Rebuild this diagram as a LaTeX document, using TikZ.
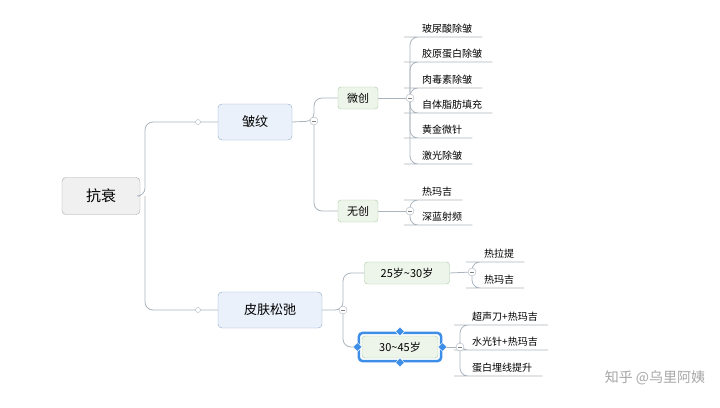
\documentclass[tikz,border=0pt]{standalone}
\usepackage{fontspec}
\setmainfont{Noto Sans CJK SC}
\usetikzlibrary{shapes.geometric,fit}

\definecolor{linegray}{HTML}{A9B4BE}
\definecolor{rootfill}{HTML}{F0F0F0}
\definecolor{bluefill}{HTML}{EAF1FA}
\definecolor{blueline}{HTML}{8FAACB}
\definecolor{greenfill}{HTML}{EDF5EA}
\definecolor{greenline}{HTML}{A6C8A2}
\definecolor{selblue}{HTML}{3E8EE8}

\begin{document}
\begin{tikzpicture}[x=1pt,y=-1pt]
	\tikzstyle{root}=[draw=gray!70,fill=rootfill,rounded corners=4pt,minimum width=78pt,minimum height=37pt,font=\fontsize{15}{15}\selectfont]
	\tikzstyle{topic}=[draw=blueline,fill=bluefill,rounded corners=4pt,minimum height=36pt,font=\fontsize{13}{13}\selectfont]
	\tikzstyle{sub}=[draw=greenline,fill=greenfill,rounded corners=3pt,minimum height=22pt,font=\fontsize{11}{11}\selectfont]
	\tikzstyle{leaf}=[anchor=south west,inner xsep=10pt,inner ysep=3pt,font=\fontsize{10}{10}\selectfont]
	\tikzstyle{knob}=[circle,draw=linegray,fill=white,inner sep=0pt,minimum size=8pt,
		path picture={\draw[gray] ([xshift=-2pt]path picture bounding box.center) -- ([xshift=2pt]path picture bounding box.center);}]
	\tikzstyle{dot}=[circle,draw=linegray,fill=white,inner sep=0pt,minimum size=5pt]
	\tikzstyle{link}=[draw=linegray,thick,rounded corners=8pt]
	\tikzstyle{handle}=[diamond,fill=selblue,draw=white,inner sep=0pt,minimum size=9pt]

	\useasboundingbox (0,0) rectangle (720,407);

	% knob positions
	\coordinate (k1) at (314,121);
	\coordinate (k2) at (410,98);
	\coordinate (k3) at (410,211);
	\coordinate (k4) at (343,310);
	\coordinate (k5) at (472,272);
	\coordinate (k6) at (460,347);

	% main nodes
	\node [root] (root) at (101,196) {抗衰};
	\node [topic,minimum width=74pt] (wrinkle) at (255,122) {皱纹};
	\node [topic,minimum width=104pt] (sag) at (270,310) {皮肤松弛};

	\draw [link] (root.east) -- (145,196) |- (wrinkle.west);
	\draw [link] (145,196) |- (sag.west);
	\node [dot] (d1) at (198,122) {};
	\node [dot] (d2) at (198,310) {};

	% wrinkle branch
	\node [sub,minimum width=40pt] (micro) at (358,98) {微创};
	\node [sub,minimum width=40pt] (noninv) at (358,211) {无创};
	\draw [link] (wrinkle.east) -- (k1) |- (micro.west);
	\draw [link] (k1) |- (noninv.west);

	\draw [link] (micro.east) -- (k2);
	\foreach \t/\y [count=\i] in {玻尿酸除皱/37,胶原蛋白除皱/62,肉毒素除皱/88,自体脂肪填充/113,黄金微针/138,激光除皱/164} {
		\node [leaf] (m\i) at (412,\y) {\t};
		\draw [link] (k2) |- (m\i.south west) -- (m\i.south east);
	}

	\draw [link] (noninv.east) -- (k3);
	\foreach \t/\y [count=\i] in {热玛吉/200,深蓝射频/225} {
		\node [leaf] (n\i) at (412,\y) {\t};
		\draw [link] (k3) |- (n\i.south west) -- (n\i.south east);
	}

	% sagging branch
	\node [sub,minimum width=85pt] (young) at (407,273) {25岁\textasciitilde 30岁};
	\node [sub,minimum width=76pt] (older) at (400,347) {30\textasciitilde 45岁};
	\node [draw=selblue,line width=2.5pt,rounded corners=4pt,fit=(older),inner sep=3pt] (sel) {};

	\draw [link] (sag.east) -- (k4) |- (young.west);
	\draw [link] (k4) |- (sel.west);

	\draw [link] (young.east) -- (k5);
	\foreach \t/\y [count=\i] in {热拉提/262,热玛吉/288} {
		\node [leaf] (y\i) at (474,\y) {\t};
		\draw [link] (k5) |- (y\i.south west) -- (y\i.south east);
	}

	\draw [link] (sel.east) -- (k6);
	\foreach \t/\y [count=\i] in {超声刀+热玛吉/325,水光针+热玛吉/350,蛋白埋线提升/376} {
		\node [leaf] (o\i) at (462,\y) {\t};
		\draw [link] (k6) |- (o\i.south west) -- (o\i.south east);
	}

	\foreach \a in {north,south,east,west}
		\node [handle] at (sel.\a) {};
	\foreach \k in {k1,k2,k3,k4,k5,k6}
		\node [knob] at (\k) {};

	\node [text=gray!70,font=\fontsize{14}{14}\selectfont] (mark) at (655,378) {知乎 @乌里阿姨};
\end{tikzpicture}
\end{document}
